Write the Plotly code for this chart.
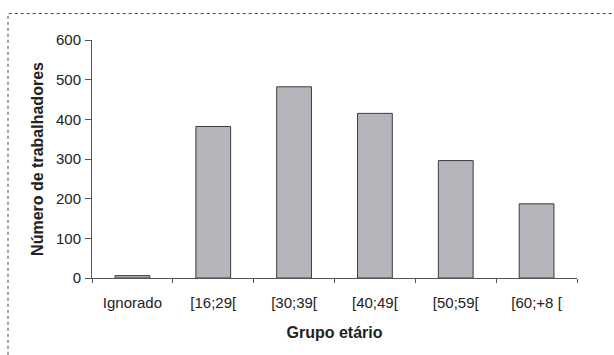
import plotly.graph_objects as go

# Age groups and number of workers in each
grupos = ["Ignorado", "[16;29[", "[30;39[", "[40;49[", "[50;59[", "[60;+8 ["]
trabalhadores = [6, 382, 482, 415, 296, 187]
y_ticks = [0, 100, 200, 300, 400, 500, 600]

W, H = 614, 355
L, R, T, B = 92, 37, 40, 76.5
pw, ph = W - L - R, H - T - B


def px_x(p):
    return (p - L) / pw


def px_y(p):
    return (H - B - p) / ph


fig = go.Figure(
    go.Bar(
        x=grupos,
        y=trabalhadores,
        marker=dict(color="#b6b5bc", line=dict(color="#3c3c3c", width=1)),
        hoverinfo="x+y",
    )
)

fig.update_layout(
    width=W,
    height=H,
    margin=dict(l=L, r=R, t=T, b=B),
    paper_bgcolor="white",
    plot_bgcolor="white",
    bargap=0.57,
    showlegend=False,
    font=dict(family="Liberation Sans, Arial, sans-serif", color="#222222", size=15),
    shapes=[
        # dotted frame around the figure panel
        dict(
            type="rect",
            xref="paper",
            yref="paper",
            x0=px_x(8),
            x1=px_x(640),
            y0=px_y(380),
            y1=px_y(13.5),
            line=dict(color="#444444", width=1, dash="dot"),
            fillcolor="rgba(0,0,0,0)",
            layer="below",
        )
    ],
)

fig.update_xaxes(
    type="category",
    showline=True,
    linecolor="#555555",
    linewidth=1,
    ticks="outside",
    tickson="boundaries",
    ticklen=4,
    tickcolor="#555555",
    ticklabelstandoff=11,
    showgrid=False,
    tickfont=dict(size=15),
    title=dict(text="<b>Grupo etário</b>", font=dict(size=16), standoff=16),
)

fig.update_yaxes(
    range=[0, 600],
    tickvals=y_ticks,
    showline=True,
    linecolor="#555555",
    linewidth=1,
    ticks="outside",
    ticklen=6,
    tickcolor="#555555",
    ticklabelstandoff=1,
    showgrid=False,
    zeroline=False,
    tickfont=dict(size=15),
    title=dict(text="<b>Número de trabalhadores</b>", font=dict(size=16), standoff=8),
)

fig.write_html("out.html")
